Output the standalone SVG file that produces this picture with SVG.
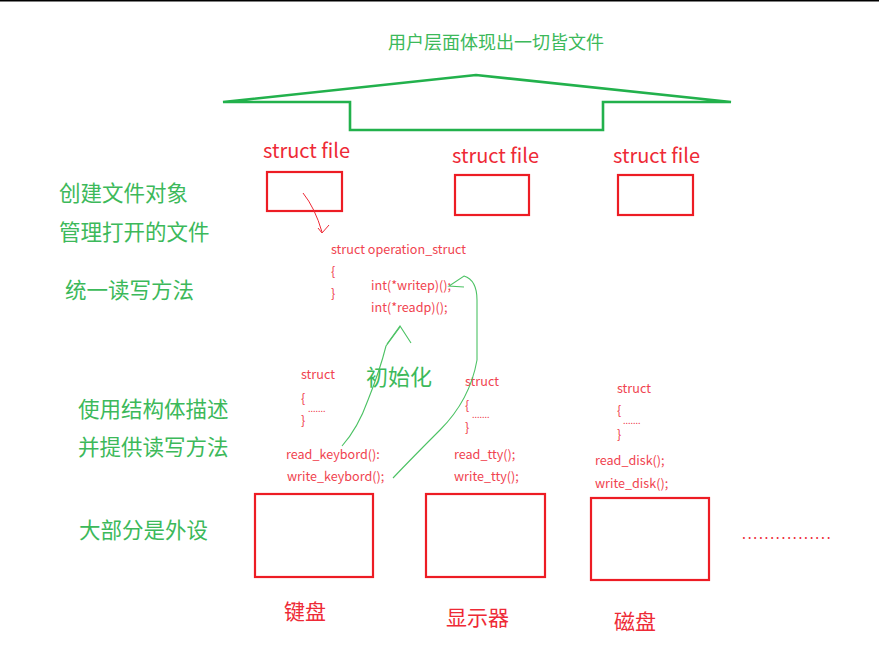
<svg xmlns="http://www.w3.org/2000/svg" width="879" height="650" viewBox="0 0 879 650">
<style>
text{font-family:"Noto Sans CJK SC","Microsoft YaHei",sans-serif}
.g{fill:#3cb95a}
.gt{fill:#3cb95a;font-size:21.5px}
.r{fill:#ee2a36}
.sf{fill:#ee2a36;font-size:20px}
.sm{fill:#f0434f;font-size:12.6px}
.dev{fill:#ee2a36;font-size:21px}
.box{fill:#fff;stroke:#ed1c24;stroke-width:2.2}
.gl{fill:none;stroke:#22b14c;stroke-width:2.6}
.gc{fill:none;stroke:#4cc264;stroke-width:1.1}
.rc{fill:none;stroke:#ee2a36;stroke-width:1}
</style>
<rect x="0" y="0" width="879" height="650" fill="#fff"/>
<rect x="0" y="0" width="879" height="1.5" fill="#000"/>

<g id="user-layer">
<text class="g" x="388" y="49" style="font-size:18px">用户层面体现出一切皆文件</text>
<path class="gl" d="M223,102 L476,75 L731,102 L603,102 L603,130 L350,130 L350,102 Z"/>
</g>

<g id="side-labels">
<text class="gt" x="59" y="201">创建文件对象</text>
<text class="gt" x="59" y="240">管理打开的文件</text>
<text class="gt" x="65" y="298">统一读写方法</text>
<text class="gt" x="78" y="417">使用结构体描述</text>
<text class="gt" x="78" y="455">并提供读写方法</text>
<text class="gt" x="79" y="538">大部分是外设</text>
</g>

<g id="file1">
<text class="sf" x="263" y="158">struct file</text>
<rect class="box" x="267" y="172" width="75" height="39"/>
</g>
<g id="file2">
<text class="sf" x="452" y="163">struct file</text>
<rect class="box" x="455" y="175" width="74" height="40"/>
</g>
<g id="file3">
<text class="sf" x="613" y="163">struct file</text>
<rect class="box" x="618" y="175" width="75" height="40"/>
</g>

<g id="operation-struct">
<text class="sm" x="331" y="254">struct operation_struct</text>
<text class="sm" x="331" y="276">{</text>
<text class="sm" x="331" y="298">}</text>
<text class="sm" x="371" y="290">int(*writep)();</text>
<text class="sm" x="371" y="312">int(*readp)();</text>
</g>

<g id="init-label">
<text class="g" x="366" y="385" style="font-size:22px">初始化</text>
</g>

<g id="keyboard-struct">
<text class="sm" x="301" y="379">struct</text>
<text class="sm" x="301" y="403">{</text>
<text class="sm" x="308" y="412" style="font-size:9px">.......</text>
<text class="sm" x="301" y="425">}</text>
<text class="sm" x="286" y="459">read_keybord():</text>
<text class="sm" x="287" y="481">write_keybord();</text>
</g>
<g id="tty-struct">
<text class="sm" x="465" y="386">struct</text>
<text class="sm" x="465" y="410">{</text>
<text class="sm" x="472" y="418" style="font-size:9px">.......</text>
<text class="sm" x="465" y="432">}</text>
<text class="sm" x="454" y="459">read_tty();</text>
<text class="sm" x="454" y="481">write_tty();</text>
</g>
<g id="disk-struct">
<text class="sm" x="617" y="393">struct</text>
<text class="sm" x="617" y="415">{</text>
<text class="sm" x="623" y="424" style="font-size:9px">.......</text>
<text class="sm" x="617" y="439">}</text>
<text class="sm" x="595" y="465">read_disk();</text>
<text class="sm" x="595" y="488">write_disk();</text>
</g>

<g id="keyboard">
<rect class="box" x="255" y="494" width="118" height="83"/>
<text class="dev" x="284" y="619">键盘</text>
</g>
<g id="display">
<rect class="box" x="426" y="494" width="119" height="83"/>
<text class="dev" x="446" y="625">显示器</text>
</g>
<g id="disk">
<rect class="box" x="591" y="498" width="118" height="82"/>
<text class="dev" x="614" y="629">磁盘</text>
</g>
<g id="more">
<text class="r" x="742" y="539" style="font-size:14px;letter-spacing:1.75px">................</text>
</g>

<g id="connectors">
<path class="rc" d="M303,193 Q315,208 322,232"/>
<path class="rc" d="M318,228 L322,233 L329,225"/>
<path class="gc" d="M342,446 Q358,428 368,400 Q380,370 386,346 L400,327"/>
<path class="gc" d="M387,344 L400,326 L411,343"/>
<path class="gc" d="M464,287 L449,286 L464,276 Q477,280 477,300 L477,360 Q470,400 440,430 Q412,458 393,478"/>
</g>
</svg>
